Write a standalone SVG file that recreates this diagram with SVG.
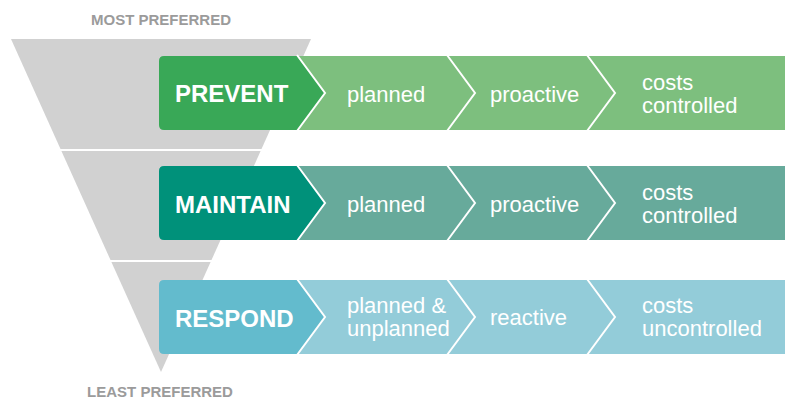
<svg xmlns="http://www.w3.org/2000/svg" width="785" height="401" viewBox="0 0 785 401">
<style>
.funnel{fill:#d1d1d1}
.cap{font-family:"Liberation Sans",Arial,sans-serif;font-weight:bold;font-size:15px;fill:#9b9b9b;text-anchor:middle}
.head{font-family:"Liberation Sans",Arial,sans-serif;font-weight:bold;font-size:24px;fill:#ffffff}
.lbl{font-family:"Liberation Sans",Arial,sans-serif;font-size:22px;fill:#ffffff}
.sep{fill:none;stroke:#ffffff;stroke-width:2}
.g1{fill:#39a857}.l1{fill:#7dbf7e}
.g2{fill:#00917a}.l2{fill:#67aa9b}
.g3{fill:#63bbcd}.l3{fill:#93ccd9}
</style>
<g id="funnel">
<polygon class="funnel" points="11,39 311,39 261.5,149 60.5,149"/>
<polygon class="funnel" points="61.4,151 260.6,151 211.5,260 110.5,260"/>
<polygon class="funnel" points="111.4,262 210.6,262 161,372"/>
<text class="cap" x="161" y="25">MOST PREFERRED</text>
<text class="cap" x="160" y="397">LEAST PREFERRED</text>
</g>
<g id="row-prevent">
<path class="l1" d="M297,56 H785 V130 H297 Z"/>
<path class="g1" d="M164,56 H297 L325,93 L297,130 H164 Q159,130 159,125 V61 Q159,56 164,56 Z"/>
<polyline class="sep" points="297,55 325,93 297,131"/>
<polyline class="sep" points="447,55 475,93 447,131"/>
<polyline class="sep" points="587,55 615,93 587,131"/>
<text class="head" x="175" y="102">PREVENT</text>
<text class="lbl" x="347" y="102">planned</text>
<text class="lbl" x="490" y="102">proactive</text>
<text class="lbl" x="642" y="90">costs<tspan x="642" dy="23">controlled</tspan></text>
</g>
<g id="row-maintain">
<path class="l2" d="M297,166 H785 V240 H297 Z"/>
<path class="g2" d="M164,166 H297 L325,203 L297,240 H164 Q159,240 159,235 V171 Q159,166 164,166 Z"/>
<polyline class="sep" points="297,165 325,203 297,241"/>
<polyline class="sep" points="447,165 475,203 447,241"/>
<polyline class="sep" points="587,165 615,203 587,241"/>
<text class="head" x="175" y="213">MAINTAIN</text>
<text class="lbl" x="347" y="212">planned</text>
<text class="lbl" x="490" y="212">proactive</text>
<text class="lbl" x="642" y="200">costs<tspan x="642" dy="23">controlled</tspan></text>
</g>
<g id="row-respond">
<path class="l3" d="M297,280 H785 V354 H297 Z"/>
<path class="g3" d="M164,280 H297 L325,317 L297,354 H164 Q159,354 159,349 V285 Q159,280 164,280 Z"/>
<polyline class="sep" points="297,279 325,317 297,355"/>
<polyline class="sep" points="447,279 475,317 447,355"/>
<polyline class="sep" points="587,279 615,317 587,355"/>
<text class="head" x="175" y="327">RESPOND</text>
<text class="lbl" x="347" y="313">planned &amp;<tspan x="347" dy="23">unplanned</tspan></text>
<text class="lbl" x="490" y="325">reactive</text>
<text class="lbl" x="642" y="313">costs<tspan x="642" dy="23">uncontrolled</tspan></text>
</g>
<g id="connectors"/>
</svg>
